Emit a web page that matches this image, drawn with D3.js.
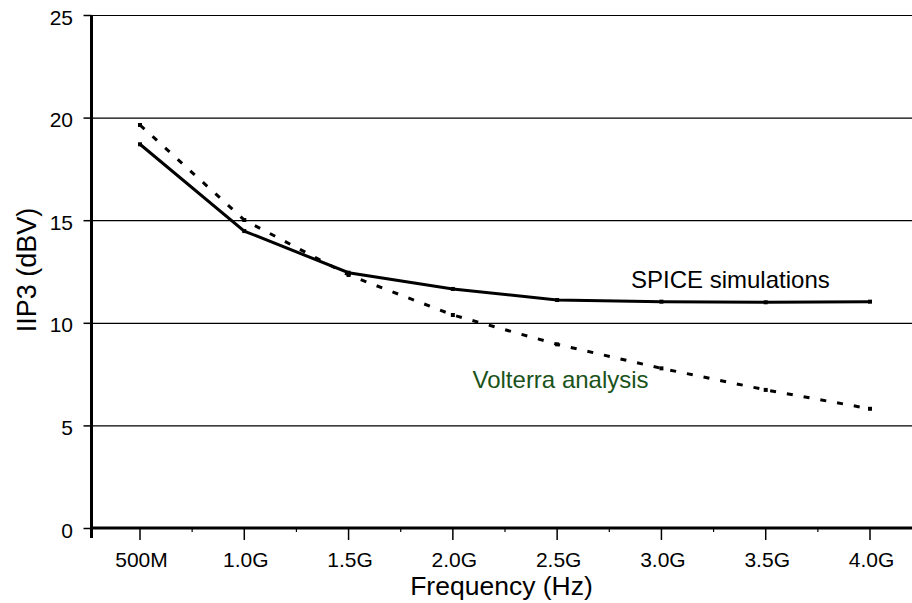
<!DOCTYPE html>
<html>
<head>
<meta charset="utf-8">
<script src="https://cdn.jsdelivr.net/npm/d3@7/dist/d3.min.js"></script>
<style>
  html, body { margin: 0; padding: 0; background: #fff; }
  svg { display: block; }
  text { font-family: "Liberation Sans", Arial, sans-serif; fill: #000; }
</style>
</head>
<body>
<svg id="chart" width="912" height="603"></svg>
<script>
// Frequencies in GHz and their axis labels
const freqs = [0.5, 1.0, 1.5, 2.0, 2.5, 3.0, 3.5, 4.0];
const freqLabels = ["500M", "1.0G", "1.5G", "2.0G", "2.5G", "3.0G", "3.5G", "4.0G"];

// IIP3 in dBV
const spiceIIP3 = [18.7, 14.47, 12.44, 11.65, 11.11, 11.03, 11.0, 11.03];
const volterraIIP3 = [19.64, 15.01, 12.33, 10.38, 8.95, 7.78, 6.73, 5.81];

const yTicks = [0, 5, 10, 15, 20, 25];

const W = 912, H = 603;
const axisX = 91.5, axisY = 528;

const svg = d3.select("#chart");

const x = d3.scaleLinear().domain([0.5, 4.0]).range([140, 870]);
const y = d3.scaleLinear().domain([0, 25]).range([528, 15]);

// Horizontal grid lines
svg.append("g").selectAll("line")
  .data(yTicks.filter(d => d > 0))
  .join("line")
  .attr("x1", axisX).attr("x2", W)
  .attr("y1", d => y(d) + 0.5).attr("y2", d => y(d) + 0.5)
  .attr("stroke", "#000").attr("stroke-width", 1.2);

// Y ticks and labels
const yg = svg.append("g");
yg.selectAll("line")
  .data(yTicks)
  .join("line")
  .attr("x1", axisX - 8).attr("x2", axisX)
  .attr("y1", d => y(d) + 0.5).attr("y2", d => y(d) + 0.5)
  .attr("stroke", "#000").attr("stroke-width", 1.5);
yg.selectAll("text")
  .data(yTicks)
  .join("text")
  .attr("x", 73)
  .attr("y", d => y(d) + 9.5)
  .attr("text-anchor", "end")
  .attr("font-size", 21)
  .text(d => d);

// X major ticks, minor ticks and labels
const xg = svg.append("g");
xg.selectAll("line.major")
  .data(freqs)
  .join("line")
  .attr("class", "major")
  .attr("x1", d => x(d)).attr("x2", d => x(d))
  .attr("y1", axisY).attr("y2", axisY + 12)
  .attr("stroke", "#000").attr("stroke-width", 1.5);
xg.selectAll("line.minor")
  .data(freqs.slice(0, -1).map(d => d + 0.25))
  .join("line")
  .attr("class", "minor")
  .attr("x1", d => x(d)).attr("x2", d => x(d))
  .attr("y1", axisY).attr("y2", axisY + 4)
  .attr("stroke", "#000").attr("stroke-width", 1.2);
xg.selectAll("text")
  .data(freqs)
  .join("text")
  .attr("x", d => x(d) + 1.5)
  .attr("y", 566.5)
  .attr("text-anchor", "middle")
  .attr("font-size", 21)
  .text((d, i) => freqLabels[i]);

// Axis lines
svg.append("line")
  .attr("x1", axisX).attr("x2", axisX)
  .attr("y1", y(25)).attr("y2", axisY + 10)
  .attr("stroke", "#000").attr("stroke-width", 3);
svg.append("line")
  .attr("x1", axisX - 1.5).attr("x2", W)
  .attr("y1", axisY).attr("y2", axisY)
  .attr("stroke", "#000").attr("stroke-width", 3);

// Series lines
const line = d3.line()
  .x((d, i) => x(freqs[i]))
  .y(d => y(d));

svg.append("path")
  .datum(volterraIIP3)
  .attr("d", line)
  .attr("fill", "none")
  .attr("stroke", "#000")
  .attr("stroke-width", 3)
  .attr("stroke-dasharray", "6,11");

svg.append("path")
  .datum(spiceIIP3)
  .attr("d", line)
  .attr("fill", "none")
  .attr("stroke", "#000")
  .attr("stroke-width", 3);

// Point markers
[spiceIIP3, volterraIIP3].forEach(series => {
  svg.append("g").selectAll("rect")
    .data(series)
    .join("rect")
    .attr("x", (d, i) => x(freqs[i]) - 2)
    .attr("y", d => y(d) - 2)
    .attr("width", 4).attr("height", 4)
    .attr("fill", "#000");
});

// Series annotations
svg.append("text")
  .attr("x", 631).attr("y", 288)
  .attr("font-size", 24)
  .text("SPICE simulations");
svg.append("text")
  .attr("x", 472.5).attr("y", 388)
  .attr("font-size", 24)
  .style("fill", "#1a531a")
  .text("Volterra analysis");

// Axis titles
svg.append("text")
  .attr("transform", "translate(36,270) rotate(-90)")
  .attr("text-anchor", "middle")
  .attr("font-size", 27)
  .text("IIP3 (dBV)");
svg.append("text")
  .attr("x", 501.5).attr("y", 595)
  .attr("text-anchor", "middle")
  .attr("font-size", 26.5)
  .text("Frequency (Hz)");
</script>
</body>
</html>
